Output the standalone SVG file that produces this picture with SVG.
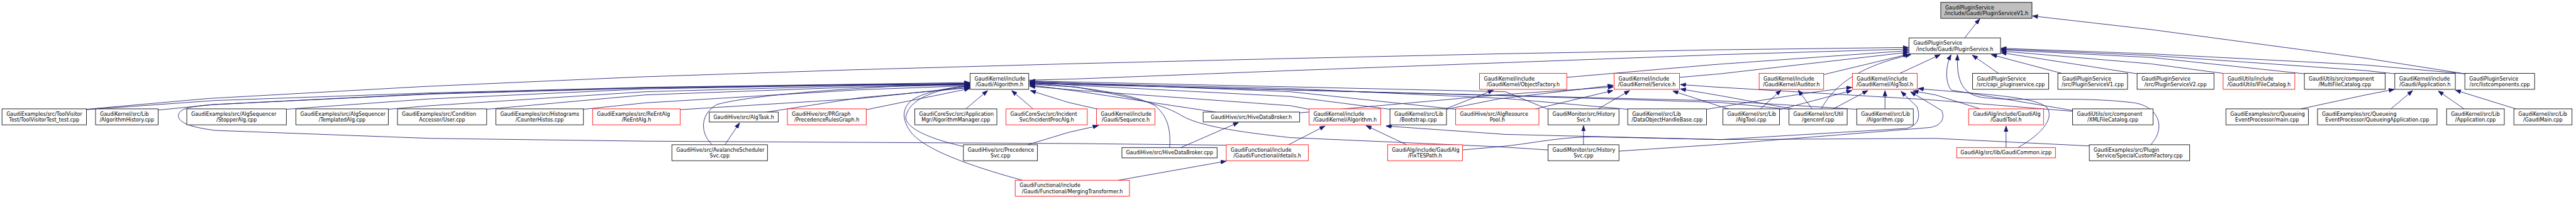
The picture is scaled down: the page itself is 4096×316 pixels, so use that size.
<svg xmlns="http://www.w3.org/2000/svg" width="4096" height="316" viewBox="0 0 4096 316">
<style>
.n rect{fill:#fff;stroke:#000;stroke-width:1.33}
.r rect{stroke:#f00}
.root rect{fill:#bfbfbf}
text{font-family:"DejaVu Sans","Liberation Sans",sans-serif;font-size:12.7px;fill:#000}
.s{text-anchor:start}
.m{text-anchor:middle}
#edges path{fill:none;stroke:#191970;stroke-width:1.33;stroke-linejoin:round;marker-end:url(#ah)}
</style>
<defs>
<marker id="ah" markerUnits="userSpaceOnUse" markerWidth="14" markerHeight="11" viewBox="0 0 14 11" refX="14" refY="5.5" orient="auto"><path d="M0,0.5 L14,5.5 L0,10.5 Z" fill="#191970" stroke="#191970" stroke-width="1"/></marker>
</defs>
<rect x="0" y="0" width="4096" height="316" fill="#fff"/>
<g transform="scale(0.63327)">
<g id="edges">
<path d="M4933,95 L4971,47"/>
<path d="M6189,185 L5940,146 L5400,74 L5103,40"/>
<path d="M217,274 L523,247 L1063,217 L1603,193 L2143,175 L2683,160 L3223,147 L3763,135 L4303,125 L4792,119"/>
<path d="M2583,201 L2700,198 L3240,177 L3780,157 L4320,137 L4792,123"/>
<path d="M3934,194 L4303,162 L4792,127"/>
<path d="M4217,194 L4320,185 L4792,131"/>
<path d="M4579,187 L4792,136"/>
<path d="M4573,273 C4600,225 4650,170 4798,137"/>
<path d="M4770,184 L4872,137"/>
<path d="M5018,184 L4952,138"/>
<path d="M5177,184 L5000,137"/>
<path d="M5366,185 L5024,132"/>
<path d="M5582,184 L5400,160 L5024,128"/>
<path d="M5786,185 L5400,144 L5024,125"/>
<path d="M6013,185 L5940,177 L5400,139 L5024,123"/>
<path d="M6189,185 L5940,163 L5400,135 L5024,121"/>
<path d="M5400,363 C5440,320 5420,268 5360,258 C5220,240 5060,256 4975,244 C4920,235 4913,190 4915,137"/>
<path d="M5205,277 L4900,226 C4884,210 4884,165 4899,137"/>
<path d="M217,275 L540,252 L1080,233 L1620,219 L2160,211 L2435,207"/>
<path d="M397,276 L540,262 L1080,235 L1620,220 L2160,212 L2435,209"/>
<path d="M719,274 L1080,248 L1620,223 L2160,213 L2435,210"/>
<path d="M975,274 L1080,265 L1620,230 L2160,215 L2435,212"/>
<path d="M1222,274 L1620,238 L2160,218 L2435,213"/>
<path d="M1465,274 L1620,258 L2160,225 L2435,215"/>
<path d="M1708,275 L2160,247 L2435,218"/>
<path d="M1925,281 L2160,245 L2435,220"/>
<path d="M2175,275 L2435,222"/>
<path d="M1788,363 C1755,330 1760,285 1800,262 C1900,235 2200,215 2435,210"/>
<path d="M2418,367 C2300,340 2270,310 2275,290 C2285,250 2340,225 2435,214"/>
<path d="M2567,452 C2450,420 2330,380 2290,335 C2262,300 2262,265 2300,245 C2340,225 2400,218 2435,216"/>
<path d="M3079,364 L2700,360 L2160,357 L1620,354 L1080,347 L540,327 C470,318 448,305 448,290 C448,275 470,266 540,262 L1080,236 L1620,221 L2160,213 L2435,211"/>
<path d="M2425,273 L2480,227"/>
<path d="M2594,273 L2540,227"/>
<path d="M2758,274 L2683,257 L2587,227"/>
<path d="M3052,281 L2700,228 L2585,213"/>
<path d="M2937,370 C2940,320 2930,290 2900,265 C2850,235 2700,215 2585,209"/>
<path d="M3887,376 L3763,368 L3240,345 C3100,330 3010,315 2967,290 C2930,268 2880,250 2700,218 L2585,211"/>
<path d="M3287,274 L3240,265 L2700,226 L2585,216"/>
<path d="M3490,274 L3240,242 L2700,214 L2585,205"/>
<path d="M3655,274 L3240,230 L2585,204"/>
<path d="M3887,274 L3780,230 L2585,203"/>
<path d="M4087,274 L3780,247 L3240,222 L2585,206"/>
<path d="M4492,274 L4320,257 L3780,240 L2585,208"/>
<path d="M4662,274 L4320,253 L2585,209"/>
<path d="M4013,273 L4092,227"/>
<path d="M3852,274 L4050,227"/>
<path d="M3263,283 L3763,238 L4051,218"/>
<path d="M3632,274 L3763,248 L4051,214"/>
<path d="M4340,273 L4320,267 L4200,228"/>
<path d="M5204,279 L4843,250 L4303,218 L4219,212"/>
<path d="M4500,273 L4320,240 L4219,223"/>
<path d="M4420,273 L4472,226"/>
<path d="M4550,273 L4515,226"/>
<path d="M4468,275 L4650,227"/>
<path d="M4603,273 L4690,227"/>
<path d="M4733,273 L4733,227"/>
<path d="M4285,274 C4400,255 4550,230 4650,219"/>
<path d="M4972,273 L4860,238 L4803,228"/>
<path d="M5067,370 C5120,340 5160,300 5140,270 C5110,240 4950,235 4816,222"/>
<path d="M3672,376 L3763,368 C3850,360 3900,345 4000,343 L4320,350 L4787,322 C4817,315 4823,293 4813,267 L4773,229"/>
<path d="M4065,379 L4320,362 L4843,320 C4873,317 4885,297 4875,277 L4797,230"/>
<path d="M3632,272 L3750,226"/>
<path d="M5037,370 L5037,316"/>
<path d="M5247,366 L4860,347 L4320,350 L3780,337 L3480,316"/>
<path d="M1820,363 L1857,308"/>
<path d="M2965,370 L3110,307"/>
<path d="M2808,452 L3079,404"/>
<path d="M2580,363 L2683,332 L2758,315"/>
<path d="M3235,363 L3327,316"/>
<path d="M3532,363 L3430,315"/>
<path d="M3976,363 L3976,315"/>
<path d="M5777,273 L5940,238 L6012,224"/>
<path d="M6003,273 L6058,227"/>
<path d="M6187,273 L6122,228"/>
<path d="M6317,273 L6165,226"/>
</g>
<g id="N0" class="n root"><rect x="4873" y="6" width="229" height="40"/><text class="s" x="4884" y="23.5">GaudiPluginService</text><text class="m" x="4987.5" y="38.5">/include/Gaudi/PluginServiceV1.h</text></g>
<g id="N1" class="n"><rect x="4793" y="95" width="230" height="40"/><text class="s" x="4804" y="112.5">GaudiPluginService</text><text class="m" x="4908" y="127.5">/include/Gaudi/PluginService.h</text></g>
<g id="A" class="n"><rect x="2436" y="184" width="147" height="40"/><text class="s" x="2447" y="201.5">GaudiKernel/include</text><text class="m" x="2509.5" y="216.5">/Gaudi/Algorithm.h</text></g>
<g id="OF" class="n r"><rect x="3715" y="184" width="219" height="40"/><text class="s" x="3726" y="201.5">GaudiKernel/include</text><text class="m" x="3824.5" y="216.5">/GaudiKernel/ObjectFactory.h</text></g>
<g id="SV" class="n r"><rect x="4053" y="184" width="164" height="40"/><text class="s" x="4064" y="201.5">GaudiKernel/include</text><text class="m" x="4135" y="216.5">/GaudiKernel/Service.h</text></g>
<g id="AU" class="n r"><rect x="4417" y="184" width="162" height="40"/><text class="s" x="4428" y="201.5">GaudiKernel/include</text><text class="m" x="4498" y="216.5">/GaudiKernel/Auditor.h</text></g>
<g id="AT" class="n r"><rect x="4651" y="184" width="163" height="40"/><text class="s" x="4662" y="201.5">GaudiKernel/include</text><text class="m" x="4732.5" y="216.5">/GaudiKernel/AlgTool.h</text></g>
<g id="CAPI" class="n"><rect x="4953" y="184" width="191" height="40"/><text class="s" x="4964" y="201.5">GaudiPluginService</text><text class="m" x="5048.5" y="216.5">/src/capi_pluginservice.cpp</text></g>
<g id="V1" class="n"><rect x="5167" y="184" width="175" height="40"/><text class="s" x="5178" y="201.5">GaudiPluginService</text><text class="m" x="5254.5" y="216.5">/src/PluginServiceV1.cpp</text></g>
<g id="V2" class="n"><rect x="5366" y="184" width="193" height="40"/><text class="s" x="5377" y="201.5">GaudiPluginService</text><text class="m" x="5462.5" y="216.5">/src/PluginServiceV2.cpp</text></g>
<g id="IFC" class="n r"><rect x="5582" y="184" width="180" height="40"/><text class="s" x="5593" y="201.5">GaudiUtils/include</text><text class="m" x="5672" y="216.5">/GaudiUtils/IFileCatalog.h</text></g>
<g id="MFC" class="n"><rect x="5786" y="184" width="203" height="40"/><text class="s" x="5797" y="201.5">GaudiUtils/src/component</text><text class="m" x="5887.5" y="216.5">/MultiFileCatalog.cpp</text></g>
<g id="APPH" class="n"><rect x="6013" y="184" width="152" height="40"/><text class="s" x="6024" y="201.5">GaudiKernel/include</text><text class="m" x="6089" y="216.5">/Gaudi/Application.h</text></g>
<g id="LC" class="n"><rect x="6189" y="184" width="175" height="40"/><text class="s" x="6200" y="201.5">GaudiPluginService</text><text class="m" x="6276.5" y="216.5">/src/listcomponents.cpp</text></g>
<g id="TVT" class="n"><rect x="5" y="273" width="212" height="40"/><text class="s" x="16" y="290.5">GaudiExamples/src/ToolVisitor</text><text class="m" x="111" y="305.5">Test/ToolVisitorTest_test.cpp</text></g>
<g id="AH" class="n"><rect x="240" y="273" width="157" height="40"/><text class="s" x="251" y="290.5">GaudiKernel/src/Lib</text><text class="m" x="318.5" y="305.5">/AlgorithmHistory.cpp</text></g>
<g id="SA" class="n"><rect x="469" y="273" width="250" height="40"/><text class="s" x="480" y="290.5">GaudiExamples/src/AlgSequencer</text><text class="m" x="594" y="305.5">/StopperAlg.cpp</text></g>
<g id="TA" class="n"><rect x="743" y="273" width="232" height="40"/><text class="s" x="754" y="290.5">GaudiExamples/src/AlgSequencer</text><text class="m" x="859" y="305.5">/TemplatedAlg.cpp</text></g>
<g id="US" class="n"><rect x="998" y="273" width="224" height="40"/><text class="s" x="1009" y="290.5">GaudiExamples/src/Condition</text><text class="m" x="1110" y="305.5">Accessor/User.cpp</text></g>
<g id="CH" class="n"><rect x="1245" y="273" width="220" height="40"/><text class="s" x="1256" y="290.5">GaudiExamples/src/Histograms</text><text class="m" x="1355" y="305.5">/CounterHistos.cpp</text></g>
<g id="RE" class="n r"><rect x="1488" y="273" width="220" height="40"/><text class="s" x="1499" y="290.5">GaudiExamples/src/ReEntAlg</text><text class="m" x="1598" y="305.5">/ReEntAlg.h</text></g>
<g id="ATK" class="n"><rect x="1781" y="281" width="173" height="25"/><text class="m" x="1867.5" y="298">GaudiHive/src/AlgTask.h</text></g>
<g id="PRG" class="n r"><rect x="1977" y="273" width="198" height="40"/><text class="s" x="1988" y="290.5">GaudiHive/src/PRGraph</text><text class="m" x="2076" y="305.5">/PrecedenceRulesGraph.h</text></g>
<g id="AM" class="n"><rect x="2297" y="273" width="206" height="40"/><text class="s" x="2308" y="290.5">GaudiCoreSvc/src/Application</text><text class="m" x="2400" y="305.5">Mgr/AlgorithmManager.cpp</text></g>
<g id="IPA" class="n r"><rect x="2526" y="273" width="204" height="40"/><text class="s" x="2537" y="290.5">GaudiCoreSvc/src/Incident</text><text class="m" x="2628" y="305.5">Svc/IncidentProcAlg.h</text></g>
<g id="SEQ" class="n r"><rect x="2753" y="273" width="147" height="40"/><text class="s" x="2764" y="290.5">GaudiKernel/include</text><text class="m" x="2826.5" y="305.5">/Gaudi/Sequence.h</text></g>
<g id="HDBH" class="n"><rect x="3021" y="281" width="242" height="25"/><text class="m" x="3142" y="298">GaudiHive/src/HiveDataBroker.h</text></g>
<g id="GKA" class="n r"><rect x="3287" y="273" width="180" height="40"/><text class="s" x="3298" y="290.5">GaudiKernel/include</text><text class="m" x="3377" y="305.5">/GaudiKernel/Algorithm.h</text></g>
<g id="BS" class="n"><rect x="3490" y="273" width="142" height="40"/><text class="s" x="3501" y="290.5">GaudiKernel/src/Lib</text><text class="m" x="3561" y="305.5">/Bootstrap.cpp</text></g>
<g id="ARP" class="n r"><rect x="3655" y="273" width="209" height="40"/><text class="s" x="3666" y="290.5">GaudiHive/src/AlgResource</text><text class="m" x="3759.5" y="305.5">Pool.h</text></g>
<g id="HSH" class="n"><rect x="3887" y="273" width="178" height="40"/><text class="s" x="3898" y="290.5">GaudiMonitor/src/History</text><text class="m" x="3976" y="305.5">Svc.h</text></g>
<g id="DOHB" class="n"><rect x="4087" y="273" width="198" height="40"/><text class="s" x="4098" y="290.5">GaudiKernel/src/Lib</text><text class="m" x="4186" y="305.5">/DataObjectHandleBase.cpp</text></g>
<g id="ATC" class="n"><rect x="4326" y="273" width="142" height="40"/><text class="s" x="4337" y="290.5">GaudiKernel/src/Lib</text><text class="m" x="4397" y="305.5">/AlgTool.cpp</text></g>
<g id="GC" class="n"><rect x="4492" y="273" width="146" height="40"/><text class="s" x="4503" y="290.5">GaudiKernel/src/Util</text><text class="m" x="4565" y="305.5">/genconf.cpp</text></g>
<g id="ALC" class="n"><rect x="4662" y="273" width="142" height="40"/><text class="s" x="4673" y="290.5">GaudiKernel/src/Lib</text><text class="m" x="4733" y="305.5">/Algorithm.cpp</text></g>
<g id="GT" class="n r"><rect x="4943" y="273" width="188" height="40"/><text class="s" x="4954" y="290.5">GaudiAlg/include/GaudiAlg</text><text class="m" x="5037" y="305.5">/GaudiTool.h</text></g>
<g id="XFC" class="n"><rect x="5204" y="273" width="202" height="40"/><text class="s" x="5215" y="290.5">GaudiUtils/src/component</text><text class="m" x="5305" y="305.5">/XMLFileCatalog.cpp</text></g>
<g id="QM" class="n"><rect x="5589" y="273" width="207" height="40"/><text class="s" x="5600" y="290.5">GaudiExamples/src/Queueing</text><text class="m" x="5692.5" y="305.5">EventProcessor/main.cpp</text></g>
<g id="QA" class="n"><rect x="5819" y="273" width="300" height="40"/><text class="s" x="5830" y="290.5">GaudiExamples/src/Queueing</text><text class="m" x="5969" y="305.5">EventProcessor/QueueingApplication.cpp</text></g>
<g id="APC" class="n"><rect x="6143" y="273" width="145" height="40"/><text class="s" x="6154" y="290.5">GaudiKernel/src/Lib</text><text class="m" x="6215.5" y="305.5">/Application.cpp</text></g>
<g id="GM" class="n"><rect x="6312" y="273" width="146" height="40"/><text class="s" x="6323" y="290.5">GaudiKernel/src/Lib</text><text class="m" x="6385" y="305.5">/GaudiMain.cpp</text></g>
<g id="AVS" class="n"><rect x="1687" y="363" width="240" height="40"/><text class="s" x="1698" y="380.5">GaudiHive/src/AvalancheScheduler</text><text class="m" x="1807" y="395.5">Svc.cpp</text></g>
<g id="PS" class="n"><rect x="2419" y="363" width="186" height="40"/><text class="s" x="2430" y="380.5">GaudiHive/src/Precedence</text><text class="m" x="2512" y="395.5">Svc.cpp</text></g>
<g id="HDBC" class="n"><rect x="2817" y="370" width="239" height="26"/><text class="m" x="2936.5" y="387">GaudiHive/src/HiveDataBroker.cpp</text></g>
<g id="DET" class="n r"><rect x="3079" y="363" width="206" height="40"/><text class="s" x="3090" y="380.5">GaudiFunctional/include</text><text class="m" x="3182" y="395.5">/Gaudi/Functional/details.h</text></g>
<g id="FTP" class="n r"><rect x="3484" y="363" width="188" height="40"/><text class="s" x="3495" y="380.5">GaudiAlg/include/GaudiAlg</text><text class="m" x="3578" y="395.5">/FixTESPath.h</text></g>
<g id="HSC" class="n"><rect x="3887" y="363" width="178" height="40"/><text class="s" x="3898" y="380.5">GaudiMonitor/src/History</text><text class="m" x="3976" y="395.5">Svc.cpp</text></g>
<g id="GCI" class="n r"><rect x="4913" y="370" width="248" height="26"/><text class="m" x="5037" y="387">GaudiAlg/src/lib/GaudiCommon.icpp</text></g>
<g id="SCF" class="n"><rect x="5246" y="363" width="252" height="40"/><text class="s" x="5257" y="380.5">GaudiExamples/src/Plugin</text><text class="m" x="5372" y="395.5">Service/SpecialCustomFactory.cpp</text></g>
<g id="MT" class="n r"><rect x="2549" y="452" width="287" height="40"/><text class="s" x="2560" y="469.5">GaudiFunctional/include</text><text class="m" x="2692.5" y="484.5">/Gaudi/Functional/MergingTransformer.h</text></g>
</g>
</svg>
